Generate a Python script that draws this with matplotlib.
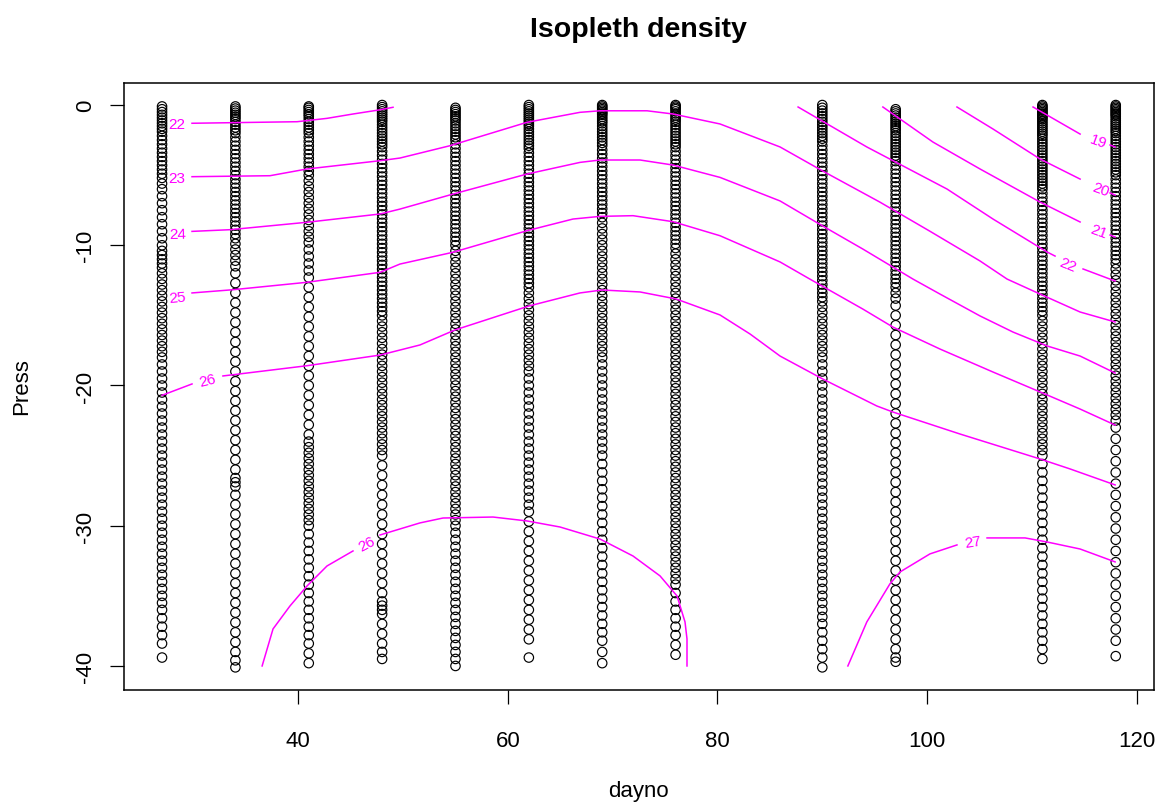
"""Isopleth density section: CTD sample depths per station with density contours."""

import matplotlib

matplotlib.use("Agg")

import matplotlib.pyplot as plt

# Station day numbers and the pressures (dbar, positive down) sampled at each.
STATION_DAYS = [27, 34, 41, 48, 55, 62, 69, 76, 90, 97, 111, 118]

PRESS_027 = [0.1, 0.3, 0.5, 0.7, 0.9, 1.1, 1.3, 1.5, 1.7, 1.9, 2.2, 2.5, 2.8, 3.1, 3.4, 3.7, 4.0, 4.3,
             4.6, 4.9, 5.2, 5.6, 6.0, 6.5, 7.0, 7.5, 8.0, 8.5, 9.0, 9.5, 10.0, 10.4, 10.7, 11.0, 11.3,
             11.6, 12.0, 12.4, 12.8, 13.2, 13.6, 14.0, 14.4, 14.8, 15.2, 15.6, 16.0, 16.4, 16.8, 17.2,
             17.6, 18.0, 18.5, 19.0, 19.5, 20.0, 20.5, 21.0, 21.5, 22.0, 22.5, 23.0, 23.5, 24.0, 24.5,
             25.0, 25.5, 26.0, 26.5, 27.0, 27.5, 28.0, 28.5, 29.0, 29.5, 30.0, 30.5, 31.0, 31.5, 32.0,
             32.5, 33.0, 33.5, 34.0, 34.5, 35.0, 35.5, 36.0, 36.6, 37.2, 37.8, 38.4, 39.4]
PRESS_034 = [0.1, 0.25, 0.4, 0.55, 0.7, 0.85, 1.0, 1.2, 1.4, 1.6, 1.8, 2.0, 2.3, 2.6, 2.9, 3.2, 3.5,
             3.8, 4.1, 4.4, 4.7, 5.0, 5.3, 5.6, 5.9, 6.2, 6.5, 6.8, 7.1, 7.4, 7.7, 8.0, 8.3, 8.6, 8.9,
             9.2, 9.5, 9.9, 10.3, 10.7, 11.1, 11.5, 12.0, 12.7, 13.4, 14.1, 14.8, 15.5, 16.2, 16.9,
             17.6, 18.3, 19.0, 19.7, 20.4, 21.1, 21.8, 22.5, 23.2, 23.9, 24.6, 25.3, 26.0, 26.6, 26.9,
             27.2, 27.8, 28.5, 29.2, 29.9, 30.6, 31.3, 32.0, 32.7, 33.4, 34.1, 34.8, 35.5, 36.2, 36.9,
             37.6, 38.3, 39.0, 39.6, 40.1]
PRESS_041 = [0.1, 0.2, 0.35, 0.5, 0.65, 0.8, 1.0, 1.2, 1.4, 1.6, 1.8, 2.0, 2.3, 2.6, 2.9, 3.2, 3.5, 3.8,
             4.1, 4.4, 4.7, 5.0, 5.4, 5.8, 6.2, 6.6, 7.0, 7.4, 7.8, 8.2, 8.6, 9.0, 9.4, 9.8, 10.3, 10.8,
             11.3, 11.8, 12.3, 13.0, 13.7, 14.4, 15.1, 15.8, 16.5, 17.2, 17.9, 18.6, 19.3, 20.0, 20.7,
             21.4, 22.1, 22.8, 23.5, 24.0, 24.4, 24.8, 25.2, 25.6, 26.0, 26.4, 26.8, 27.2, 27.6, 28.0,
             28.4, 28.8, 29.2, 29.6, 30.0, 30.6, 31.2, 31.8, 32.4, 33.0, 33.6, 34.2, 34.8, 35.4, 36.0,
             36.6, 37.2, 37.8, 38.4, 39.1, 39.8]
PRESS_048 = [0.0, 0.15, 0.3, 0.45, 0.6, 0.75, 0.9, 1.05, 1.2, 1.4, 1.6, 1.8, 2.0, 2.2, 2.4, 2.6, 2.8,
             3.0, 3.3, 3.6, 3.9, 4.2, 4.5, 4.8, 5.1, 5.4, 5.7, 6.0, 6.3, 6.6, 6.9, 7.2, 7.5, 7.8, 8.1,
             8.4, 8.7, 9.0, 9.3, 9.6, 9.9, 10.2, 10.5, 10.8, 11.1, 11.4, 11.7, 12.0, 12.3, 12.6, 12.9,
             13.2, 13.5, 13.8, 14.1, 14.4, 14.7, 15.0, 15.4, 15.8, 16.2, 16.6, 17.0, 17.4, 17.8, 18.2,
             18.6, 19.0, 19.4, 19.8, 20.2, 20.6, 21.0, 21.4, 21.8, 22.2, 22.6, 23.0, 23.4, 23.8, 24.2,
             24.6, 25.0, 25.7, 26.4, 27.1, 27.8, 28.5, 29.2, 29.9, 30.6, 31.3, 32.0, 32.7, 33.4, 34.1,
             34.8, 35.4, 35.7, 36.0, 36.3, 37.0, 37.7, 38.4, 39.0, 39.5]
PRESS_055 = [0.2, 0.35, 0.5, 0.65, 0.8, 0.95, 1.1, 1.3, 1.5, 1.7, 1.9, 2.1, 2.3, 2.5, 2.8, 3.1, 3.4,
             3.7, 4.0, 4.3, 4.6, 4.9, 5.2, 5.5, 5.8, 6.1, 6.4, 6.7, 7.0, 7.3, 7.6, 7.9, 8.2, 8.5, 8.8,
             9.1, 9.4, 9.7, 10.0, 10.4, 10.8, 11.2, 11.6, 12.0, 12.4, 12.8, 13.2, 13.6, 14.0, 14.4,
             14.8, 15.2, 15.6, 16.0, 16.4, 16.8, 17.2, 17.6, 18.0, 18.4, 18.8, 19.2, 19.6, 20.0, 20.4,
             20.8, 21.2, 21.6, 22.0, 22.4, 22.8, 23.2, 23.6, 24.0, 24.4, 24.8, 25.2, 25.6, 26.0, 26.4,
             26.8, 27.2, 27.6, 28.0, 28.4, 28.8, 29.2, 29.6, 30.0, 30.5, 31.0, 31.5, 32.0, 32.5, 33.0,
             33.5, 34.0, 34.5, 35.0, 35.5, 36.0, 36.5, 37.0, 37.5, 38.0, 38.5, 39.0, 39.5, 40.0]
PRESS_062 = [0.0, 0.15, 0.3, 0.45, 0.6, 0.75, 0.9, 1.05, 1.2, 1.35, 1.5, 1.7, 1.9, 2.1, 2.3, 2.5, 2.7,
             2.9, 3.1, 3.4, 3.7, 4.0, 4.3, 4.6, 4.9, 5.2, 5.5, 5.8, 6.1, 6.4, 6.7, 7.0, 7.3, 7.6, 7.9,
             8.2, 8.5, 8.8, 9.1, 9.4, 9.7, 10.0, 10.3, 10.6, 10.9, 11.2, 11.5, 11.8, 12.1, 12.4, 12.7,
             13.0, 13.4, 13.8, 14.2, 14.6, 15.0, 15.4, 15.8, 16.2, 16.6, 17.0, 17.4, 17.8, 18.2, 18.6,
             19.0, 19.5, 20.0, 20.5, 21.0, 21.5, 22.0, 22.5, 23.0, 23.5, 24.0, 24.5, 25.0, 25.5, 26.0,
             26.5, 27.0, 27.5, 28.0, 28.5, 29.0, 29.7, 30.4, 31.1, 31.8, 32.5, 33.2, 33.9, 34.6, 35.3,
             36.0, 36.7, 37.4, 38.1, 39.4]
PRESS_069 = [0.0, 0.1, 0.2, 0.3, 0.4, 0.5, 0.6, 0.7, 0.85, 1.0, 1.15, 1.3, 1.5, 1.7, 1.9, 2.1, 2.3,
             2.5, 2.7, 2.9, 3.2, 3.5, 3.8, 4.1, 4.4, 4.7, 5.0, 5.3, 5.6, 5.9, 6.2, 6.5, 6.8, 7.1, 7.4,
             7.7, 8.0, 8.4, 8.8, 9.2, 9.6, 10.0, 10.4, 10.8, 11.2, 11.6, 12.0, 12.4, 12.8, 13.2, 13.6,
             14.0, 14.4, 14.8, 15.2, 15.6, 16.0, 16.4, 16.8, 17.2, 17.6, 18.0, 18.5, 19.0, 19.5, 20.0,
             20.5, 21.0, 21.5, 22.0, 22.5, 23.0, 23.5, 24.0, 24.5, 25.0, 25.6, 26.2, 26.8, 27.4, 28.0,
             28.6, 29.2, 29.8, 30.4, 31.0, 31.6, 32.2, 32.8, 33.4, 34.0, 34.6, 35.2, 35.8, 36.4, 37.0,
             37.6, 38.2, 39.0, 39.8]
PRESS_076 = [0.0, 0.1, 0.2, 0.3, 0.45, 0.6, 0.75, 0.9, 1.05, 1.2, 1.4, 1.6, 1.8, 2.0, 2.2, 2.4, 2.6,
             2.8, 3.0, 3.3, 3.6, 3.9, 4.2, 4.5, 4.8, 5.1, 5.4, 5.7, 6.0, 6.3, 6.6, 6.9, 7.2, 7.5, 7.8,
             8.1, 8.4, 8.7, 9.0, 9.3, 9.6, 9.9, 10.2, 10.6, 11.0, 11.4, 11.8, 12.2, 12.6, 13.0, 13.4,
             13.8, 14.2, 14.6, 15.0, 15.4, 15.8, 16.2, 16.6, 17.0, 17.4, 17.8, 18.2, 18.6, 19.0, 19.4,
             19.8, 20.2, 20.6, 21.0, 21.4, 21.8, 22.2, 22.6, 23.0, 23.4, 23.8, 24.2, 24.6, 25.0, 25.4,
             25.8, 26.2, 26.6, 27.0, 27.4, 27.8, 28.2, 28.6, 29.0, 29.4, 29.8, 30.2, 30.6, 31.0, 31.4,
             31.8, 32.2, 32.6, 33.0, 33.4, 33.8, 34.2, 34.8, 35.4, 36.0, 36.6, 37.2, 37.8, 38.5, 39.2]
PRESS_090 = [0.0, 0.2, 0.4, 0.6, 0.8, 1.0, 1.2, 1.4, 1.6, 1.8, 2.0, 2.2, 2.4, 2.6, 2.9, 3.2, 3.5, 3.8,
             4.1, 4.4, 4.7, 5.0, 5.3, 5.6, 5.9, 6.2, 6.5, 6.8, 7.1, 7.4, 7.7, 8.0, 8.3, 8.6, 8.9, 9.2,
             9.5, 9.8, 10.1, 10.4, 10.7, 11.0, 11.3, 11.6, 11.9, 12.2, 12.5, 12.8, 13.1, 13.4, 13.7,
             14.0, 14.4, 14.8, 15.2, 15.6, 16.0, 16.4, 16.8, 17.2, 17.6, 18.0, 18.5, 19.0, 19.5, 20.0,
             20.5, 21.0, 21.5, 22.0, 22.5, 23.0, 23.5, 24.0, 24.5, 25.0, 25.5, 26.0, 26.5, 27.0, 27.5,
             28.0, 28.5, 29.0, 29.5, 30.0, 30.5, 31.0, 31.5, 32.0, 32.5, 33.0, 33.5, 34.0, 34.5, 35.0,
             35.5, 36.0, 36.5, 37.0, 37.6, 38.2, 38.8, 39.4, 40.1]
PRESS_097 = [0.3, 0.45, 0.6, 0.75, 0.9, 1.05, 1.2, 1.35, 1.5, 1.65, 1.8, 2.0, 2.2, 2.4, 2.6, 2.8, 3.0,
             3.2, 3.4, 3.6, 3.8, 4.0, 4.3, 4.6, 4.9, 5.2, 5.5, 5.8, 6.1, 6.4, 6.7, 7.0, 7.3, 7.6, 7.9,
             8.2, 8.5, 8.8, 9.1, 9.4, 9.7, 10.0, 10.3, 10.6, 10.9, 11.2, 11.5, 11.8, 12.1, 12.4, 12.7,
             13.0, 13.4, 13.8, 14.3, 15.0, 15.7, 16.4, 17.1, 17.8, 18.5, 19.2, 19.9, 20.6, 21.3, 22.0,
             22.7, 23.4, 24.1, 24.8, 25.5, 26.2, 26.9, 27.6, 28.3, 29.0, 29.7, 30.4, 31.1, 31.8, 32.5,
             33.2, 33.9, 34.6, 35.3, 36.0, 36.7, 37.4, 38.1, 38.8, 39.4, 39.7]
PRESS_111 = [0.0, 0.1, 0.2, 0.3, 0.4, 0.5, 0.6, 0.7, 0.8, 0.9, 1.0, 1.15, 1.3, 1.45, 1.6, 1.75, 1.9,
             2.05, 2.2, 2.4, 2.6, 2.8, 3.0, 3.2, 3.4, 3.6, 3.8, 4.0, 4.2, 4.4, 4.6, 4.8, 5.0, 5.2, 5.4,
             5.6, 5.8, 6.0, 6.3, 6.6, 6.9, 7.2, 7.5, 7.8, 8.1, 8.4, 8.7, 9.0, 9.3, 9.6, 9.9, 10.2,
             10.5, 10.8, 11.1, 11.4, 11.7, 12.0, 12.3, 12.6, 12.9, 13.2, 13.5, 13.8, 14.1, 14.4, 14.7,
             15.0, 15.4, 15.8, 16.2, 16.6, 17.0, 17.4, 17.8, 18.2, 18.6, 19.0, 19.4, 19.8, 20.2, 20.6,
             21.0, 21.4, 21.8, 22.2, 22.6, 23.0, 23.4, 23.8, 24.2, 24.6, 25.0, 25.6, 26.2, 26.8, 27.4,
             28.0, 28.6, 29.2, 29.8, 30.4, 31.0, 31.6, 32.2, 32.8, 33.4, 34.0, 34.6, 35.2, 35.8, 36.4,
             37.0, 37.6, 38.2, 38.8, 39.5]
PRESS_118 = [0.0, 0.1, 0.2, 0.3, 0.4, 0.5, 0.6, 0.7, 0.8, 0.95, 1.1, 1.25, 1.4, 1.55, 1.7, 1.85, 2.0,
             2.2, 2.4, 2.6, 2.8, 3.0, 3.2, 3.4, 3.6, 3.8, 4.0, 4.2, 4.4, 4.6, 4.8, 5.0, 5.3, 5.6, 5.9,
             6.2, 6.5, 6.8, 7.1, 7.4, 7.7, 8.0, 8.3, 8.6, 8.9, 9.2, 9.5, 9.8, 10.1, 10.4, 10.7, 11.0,
             11.3, 11.7, 12.1, 12.5, 12.9, 13.3, 13.7, 14.1, 14.5, 14.9, 15.3, 15.7, 16.1, 16.5, 16.9,
             17.3, 17.7, 18.1, 18.5, 18.9, 19.3, 19.7, 20.1, 20.5, 20.9, 21.3, 21.7, 22.1, 22.5, 23.0,
             23.8, 24.6, 25.4, 26.2, 27.0, 27.8, 28.6, 29.4, 30.2, 31.0, 31.8, 32.6, 33.4, 34.2, 35.0,
             35.8, 36.6, 37.4, 38.2, 39.3]

STATION_PRESS = [PRESS_027, PRESS_034, PRESS_041, PRESS_048, PRESS_055, PRESS_062,
                 PRESS_069, PRESS_076, PRESS_090, PRESS_097, PRESS_111, PRESS_118]

# Density isopleths as (dayno, Press) polylines; each list holds the pieces on
# either side of the in-line label.
ISO_19 = [[(110.11, -0.14), (114.60, -2.07)],
          [(117.46, -2.85), (117.94, -2.99)]]
ISO_20 = [[(102.85, -0.14), (106.29, -1.71), (110.78, -3.85), (114.60, -5.28)],
          [(117.46, -6.27), (117.94, -6.42)]]
ISO_21 = [[(95.78, -0.14), (100.56, -2.64), (105.05, -4.56), (110.78, -6.92), (114.60, -8.34)],
          [(117.46, -9.27), (117.94, -9.41)]]
ISO_22_EAST = [[(87.69, -0.14), (94.25, -2.99), (101.90, -5.99), (106.29, -8.13), (111.45, -10.48),
                (112.21, -10.77)],
               [(114.88, -11.69), (117.94, -12.55)]]
ISO_22_WEST = [[(29.86, -1.30), (39.88, -1.19), (42.74, -0.95), (45.22, -0.64), (47.80, -0.34),
                (49.04, -0.16)]]
ISO_23 = [[(29.86, -5.11), (37.30, -5.04), (40.83, -4.56), (47.80, -3.97), (49.70, -3.78),
           (54.48, -2.90), (61.83, -1.23), (66.88, -0.52), (68.79, -0.41), (73.28, -0.41),
           (75.76, -0.64), (80.24, -1.35), (85.97, -2.99), (90.05, -4.71), (95.49, -6.92),
           (100.27, -9.00), (105.05, -11.12), (107.63, -12.41), (110.78, -13.48), (114.60, -14.76),
           (117.94, -15.47)]]
ISO_24 = [[(29.86, -9.01), (33.48, -8.89), (40.83, -8.36), (47.80, -7.77), (49.70, -7.42),
           (54.76, -6.35), (61.83, -4.92), (66.88, -4.09), (68.79, -3.92), (72.61, -3.92),
           (75.76, -4.28), (80.24, -5.16), (85.97, -6.84), (90.05, -8.63), (93.87, -10.27),
           (98.65, -12.41), (101.23, -13.48), (105.05, -15.04), (108.20, -16.19), (111.45, -17.18),
           (114.60, -17.90), (117.94, -19.11)]]
ISO_25 = [[(29.86, -13.40), (33.77, -13.17), (40.83, -12.64), (47.80, -11.93), (49.70, -11.34),
           (54.76, -10.50), (61.83, -8.96), (66.21, -8.13), (68.79, -7.94), (71.94, -7.89),
           (75.76, -8.32), (80.24, -9.32), (85.97, -11.19), (88.81, -12.41), (93.87, -14.55),
           (96.73, -15.83), (101.23, -17.40), (106.29, -19.04), (110.78, -20.46), (114.60, -21.68),
           (117.94, -22.82)]]
ISO_26_UPPER = [[(27.00, -20.70), (29.86, -19.89)],
                [(32.81, -19.32), (40.83, -18.59), (47.80, -17.83), (51.61, -17.11), (54.95, -16.04),
                 (62.01, -14.33), (66.88, -13.40), (68.98, -13.19), (72.61, -13.33), (76.05, -13.83),
                 (80.24, -14.97), (83.11, -16.33), (85.97, -17.90), (90.05, -19.54), (95.20, -21.46),
                 (96.73, -21.89), (103.14, -23.46), (110.78, -25.24), (113.64, -25.95),
                 (117.94, -27.09)]]
ISO_26_LOWER = [[(36.55, -40.00), (37.59, -37.36), (39.21, -35.72), (40.83, -34.30), (42.74, -32.87),
                 (45.22, -31.80)],
                [(47.80, -30.66), (51.61, -29.80), (53.81, -29.45), (58.58, -29.38), (61.83, -29.66),
                 (64.97, -30.09), (68.79, -30.95), (71.94, -32.16), (74.52, -33.58), (76.14, -35.01),
                 (76.90, -36.86), (77.09, -38.07), (77.09, -40.00)]]
ISO_27 = [[(92.44, -40.00), (94.25, -36.86), (96.45, -34.15), (97.41, -33.30), (100.27, -32.01),
           (102.85, -31.37)],
          [(105.72, -30.87), (109.35, -30.87), (111.45, -31.16), (114.60, -31.66), (117.94, -32.58)]]

ISOPLETHS = [ISO_19, ISO_20, ISO_21, ISO_22_EAST, ISO_22_WEST, ISO_23, ISO_24, ISO_25,
             ISO_26_UPPER, ISO_26_LOWER, ISO_27]

# Label text, position (dayno, Press) and screen angle in degrees.
ISO_LABELS = [
    ("19", 116.32, -2.54, -20),
    ("20", 116.51, -5.99, -20),
    ("21", 116.41, -8.98, -20),
    ("22", 113.45, -11.34, -22),
    ("22", 28.45, -1.35, 0),
    ("23", 28.45, -5.23, 0),
    ("24", 28.45, -9.20, 1),
    ("25", 28.45, -13.70, 5),
    ("26", 31.38, -19.61, 14),
    ("26", 46.54, -31.30, 28),
    ("27", 104.38, -31.16, 9),
]

X_TICKS = [40, 60, 80, 100, 120]
Y_TICKS = [0, -10, -20, -30, -40]

ISO_COLOR = "#FF00FF"
FIG_W, FIG_H, DPI = 11.58, 8.03, 100


def main() -> None:
    plt.rcParams.update(
        {
            "font.family": ["Liberation Sans", "DejaVu Sans"],
            "axes.unicode_minus": False,
        }
    )
    fig = plt.figure(figsize=(FIG_W, FIG_H), dpi=DPI)
    ax = fig.add_axes([0.10699, 0.13973, 0.88946, 0.75529])

    for day, press in zip(STATION_DAYS, STATION_PRESS):
        ax.scatter(
            [day] * len(press),
            [-p for p in press],
            s=46,
            facecolors="none",
            edgecolors="black",
            linewidths=0.85,
            zorder=2,
        )

    for pieces in ISOPLETHS:
        for piece in pieces:
            xs, ys = zip(*piece)
            ax.plot(xs, ys, color=ISO_COLOR, linewidth=1.1, zorder=3)

    for text, x, y, angle in ISO_LABELS:
        ax.text(
            x, y, text,
            color=ISO_COLOR,
            fontsize=11,
            rotation=angle,
            rotation_mode="anchor",
            ha="center",
            va="center",
            zorder=4,
        )

    ax.set_xlim(23.36, 121.64)
    ax.set_ylim(-41.7, 1.55)
    ax.set_xticks(X_TICKS)
    ax.set_yticks(Y_TICKS)
    ax.set_yticklabels([str(t) for t in Y_TICKS], rotation=90, va="center")
    ax.tick_params(axis="both", direction="out", length=10, width=0.9, labelsize=16)
    ax.tick_params(axis="x", pad=19)
    ax.tick_params(axis="y", pad=10)
    for spine in ax.spines.values():
        spine.set_linewidth(1.1)
        spine.set_color("black")

    fig.text(0.5510, 0.9626, "Isopleth density", ha="center", va="center",
             fontsize=20.5, fontweight="bold")
    fig.text(0.5510, 0.0137, "dayno", ha="center", va="center", fontsize=16)
    fig.text(0.0190, 0.5180, "Press", ha="center", va="center", rotation=90, fontsize=16)

    fig.savefig("out.png", dpi=DPI)
    plt.close(fig)


if __name__ == "__main__":
    main()
